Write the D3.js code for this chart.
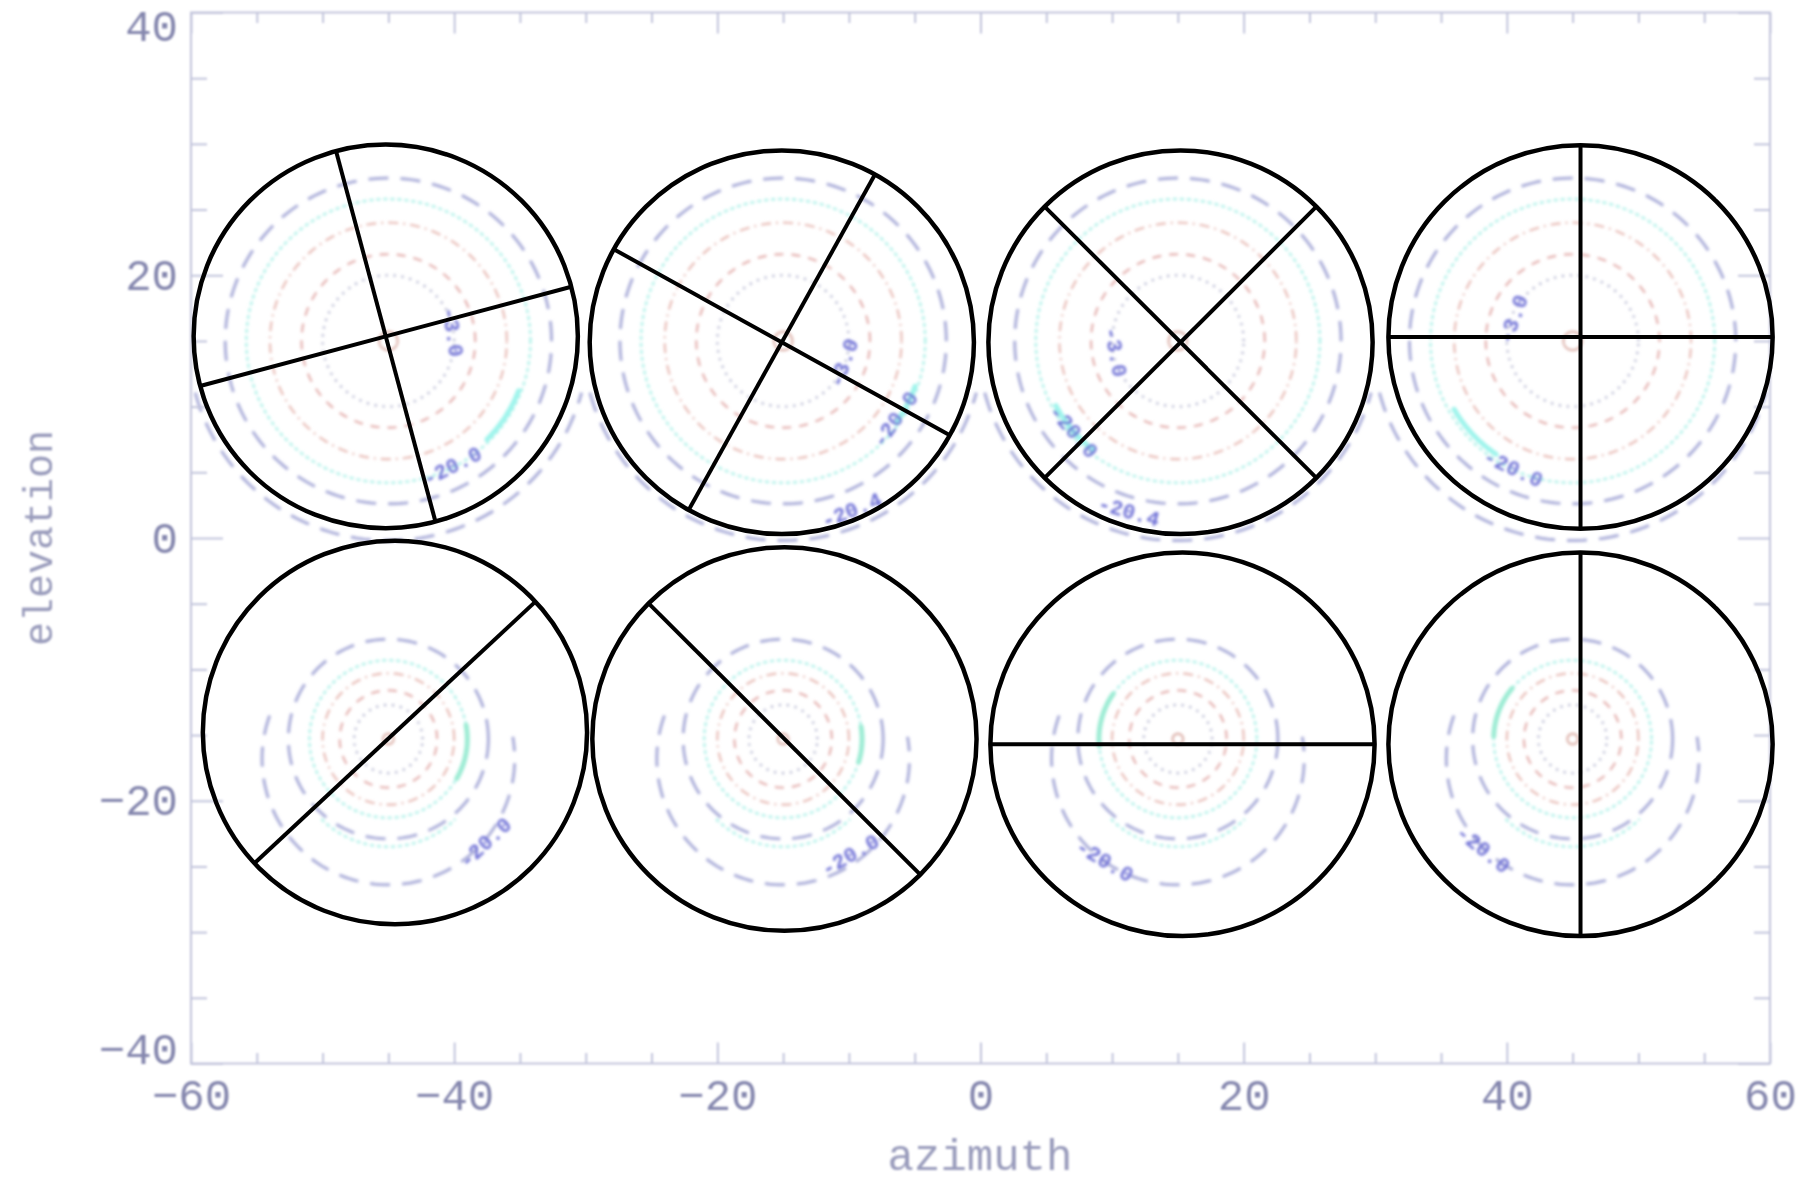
<!DOCTYPE html>
<html>
<head>
<meta charset="utf-8">
<script src="https://cdn.jsdelivr.net/npm/d3@7"></script>
<style>
  html, body { margin: 0; padding: 0; background: #ffffff; }
  svg { display: block; }
</style>
</head>
<body>
<svg id="chart" width="1802" height="1186"></svg>
<script>
// ---------------- data ----------------
const xTickValues = [-60, -40, -20, 0, 20, 40, 60];
const yTickValues = [-40, -20, 0, 20, 40];
const xMinorStep = 5;
const yMinorStep = 5;
const xAxisTitle = "azimuth";
const yAxisTitle = "elevation";

// contour spots (beam centres): 4 azimuths x 2 elevations
const spotAzimuth = [-45, -15, 15, 45];
const spotElevation = [15, -15.3];

// closed contour rings (radius in degrees) of the upper and lower beams
const upperRingRadii = [0.7, 5.0, 6.6, 9.0, 10.8, 12.4];
const lowerRingRadii = [0.4, 2.6, 3.7, 5.0, 6.0, 7.6];
const ringKinds = ["centre", "dot", "dash", "dashdot", "cyan", "long"];

// open contour arcs: row, centre offset (deg), radius (deg), angle range (deg)
const arcRow = [0, 1, 1];
const arcOffsetEl = [0, -1.5, -1.0];
const arcRadius = [15.2, 9.6, 7.2];
const arcFrom = [195, 160, 225];
const arcTo = [345, 370, 315];
const arcKind = ["long", "long", "cyan"];

// bright highlighted stretches of the cyan contour, per spot (0-3 upper, 4-7 lower)
const highlightSpot = [0, 1, 2, 3, 4, 5, 6, 7];
const highlightRadius = [10.6, 10.6, 10.5, 10.4, 6.0, 6.0, 6.0, 6.0];
const highlightFrom = [-45, -35, 208, 210, -30, -17, 145, 140];
const highlightTo = [-20, -18, 232, 236, 10, 9, 185, 178];

// contour labels
const labelText = ["-3.0", "-3.0", "-3.0", "-3.0", "-20.0", "-20.0", "-20.0", "-20.0",
                   "-20.4", "-20.4", "-20.0", "-20.0", "-20.0", "-20.0"];
const labelSpot = [0, 1, 2, 3, 0, 1, 2, 3, 1, 2, 4, 5, 6, 7];
const labelRadius = [4.85, 5.0, 4.9, 4.7, 10.8, 10.5, 10.6, 10.8, 14.0, 13.6, 10.9, 10.3, 10.9, 10.9];
const labelAngle = [8, -20, 190, 160, -63, -35, 221, 245, -68, -106, -47, -60, -121, -129];

// black overlay circles with their diameter lines
const circleAzimuth = [-45.2, -15.1, 15.2, 45.6, -44.5, -14.9, 15.35, 45.6];
const circleElevation = [15.35, 14.9, 14.9, 15.3, -14.8, -15.3, -15.7, -15.7];
const circleRadius = 14.6;
const circleLineAngles = [[15, 105], [61, 151], [45, 135], [0, 90], [43], [135], [0], [90]];

// ---------------- drawing ----------------
const svg = d3.select("#chart");
const x = d3.scaleLinear().domain([-60, 60]).range([191, 1770]);
const y = d3.scaleLinear().domain([-40, 40]).range([1063.5, 12.5]);
const ux = x(1) - x(0);
const uy = y(0) - y(1);

const defs = svg.append("defs");
defs.append("filter").attr("id", "soft").attr("x", "-5%").attr("y", "-5%").attr("width", "110%").attr("height", "110%")
  .append("feGaussianBlur").attr("stdDeviation", 1.4);
defs.append("filter").attr("id", "softer").attr("x", "-5%").attr("y", "-5%").attr("width", "110%").attr("height", "110%")
  .append("feGaussianBlur").attr("stdDeviation", 0.8);

const styles = {
  centre:  { stroke: "#d9a9a0", width: 2,   dash: null },
  dot:     { stroke: "#a6a8c6", width: 2.2, dash: "2 6" },
  dash:    { stroke: "#e4b0ae", width: 2.2, dash: "9 8" },
  dashdot: { stroke: "#e8bcb6", width: 2.2, dash: "10 5 2 5" },
  cyan:    { stroke: "#b4f2ea", width: 2.6, dash: "4 3" },
  long:    { stroke: "#abaed9", width: 3,   dash: "20 12" }
};

const spots = [];
spotElevation.forEach((el, row) => spotAzimuth.forEach(az => spots.push({ az, el, row })));

const contours = svg.append("g").attr("filter", "url(#soft)");

function ringPath(cx, cy, rx, ry, a0, a1) {
  const pts = d3.range(a0, a1 + 0.5, 2).map(a => {
    const t = a * Math.PI / 180;
    return [cx + rx * Math.cos(t), cy - ry * Math.sin(t)];
  });
  return d3.line()(pts);
}

spots.forEach(s => {
  const radii = s.row === 0 ? upperRingRadii : lowerRingRadii;
  radii.forEach((r, i) => {
    const st = styles[ringKinds[i]];
    contours.append("path")
      .attr("d", ringPath(x(s.az), y(s.el), r * ux, r * uy, 0, 360))
      .attr("fill", "none")
      .attr("stroke", st.stroke)
      .attr("stroke-width", st.width)
      .attr("stroke-dasharray", st.dash);
  });
  arcRow.forEach((row, i) => {
    if (row !== s.row) return;
    const st = styles[arcKind[i]];
    contours.append("path")
      .attr("d", ringPath(x(s.az), y(s.el + arcOffsetEl[i]), arcRadius[i] * ux, arcRadius[i] * uy, arcFrom[i], arcTo[i]))
      .attr("fill", "none")
      .attr("stroke", st.stroke)
      .attr("stroke-width", st.width)
      .attr("stroke-dasharray", st.dash);
  });
});

highlightSpot.forEach((si, i) => {
  const s = spots[si];
  contours.append("path")
    .attr("d", ringPath(x(s.az), y(s.el), highlightRadius[i] * ux, highlightRadius[i] * uy, highlightFrom[i], highlightTo[i]))
    .attr("fill", "none")
    .attr("stroke", s.row === 0 ? "#9ff4ec" : "#9decd4")
    .attr("stroke-width", 5)
    .attr("stroke-linecap", "round");
});

labelText.forEach((txt, i) => {
  const s = spots[labelSpot[i]];
  const a = labelAngle[i] * Math.PI / 180;
  const px = x(s.az + labelRadius[i] * Math.cos(a));
  const py = y(s.el + labelRadius[i] * Math.sin(a));
  let t = labelAngle[i] + 90;
  while (t > 90) t -= 180;
  while (t <= -90) t += 180;
  contours.append("text")
    .attr("transform", `translate(${px},${py}) rotate(${-t})`)
    .attr("text-anchor", "middle")
    .attr("dominant-baseline", "central")
    .attr("font-family", "Liberation Mono, DejaVu Sans Mono, monospace")
    .attr("font-weight", "bold")
    .attr("font-size", 21)
    .attr("fill", "#6e70d6")
    .text(txt);
});

// ---------------- axes (IDL-style box) ----------------
const axisColor = "#c3c5dc";
const labelColor = "#8587ae";
const axes = svg.append("g").attr("filter", "url(#softer)");

const xMinor = d3.range(-60, 60.1, xMinorStep).filter(v => !xTickValues.includes(v));
const yMinor = d3.range(-40, 40.1, yMinorStep).filter(v => !yTickValues.includes(v));
const xMajorLen = 21, yMajorLen = 32;

function drawAxis(gen, transform) {
  const g = axes.append("g").attr("transform", transform).call(gen);
  g.select(".domain").remove();
  g.selectAll("line").attr("stroke", axisColor).attr("stroke-width", 2);
  return g;
}

// bottom
const gBottom = drawAxis(d3.axisBottom(x).tickValues(xTickValues).tickSizeInner(-xMajorLen).tickSizeOuter(0)
  .tickPadding(0).tickFormat(d => d < 0 ? "\u2212" + Math.abs(d) : d), `translate(0,${y(-40)})`);
gBottom.selectAll("text")
  .attr("y", 46.5).attr("dy", null)
  .attr("font-family", "Liberation Mono, DejaVu Sans Mono, monospace")
  .attr("font-size", 44).attr("fill", labelColor);
drawAxis(d3.axisBottom(x).tickValues(xMinor).tickSizeInner(-xMajorLen / 2).tickSizeOuter(0).tickFormat(""), `translate(0,${y(-40)})`);
// top
drawAxis(d3.axisTop(x).tickValues(xTickValues).tickSizeInner(-xMajorLen).tickSizeOuter(0).tickFormat(""), `translate(0,${y(40)})`);
drawAxis(d3.axisTop(x).tickValues(xMinor).tickSizeInner(-xMajorLen / 2).tickSizeOuter(0).tickFormat(""), `translate(0,${y(40)})`);
// left
const gLeft = drawAxis(d3.axisLeft(y).tickValues(yTickValues).tickSizeInner(-yMajorLen).tickSizeOuter(0)
  .tickPadding(13).tickFormat(d => d < 0 ? "\u2212" + Math.abs(d) : d), `translate(${x(-60)},0)`);
gLeft.selectAll("text")
  .attr("dy", null)
  .attr("y", d => (d === 40 ? 13.5 : d === -40 ? -14.5 : 0) + 14)
  .attr("font-family", "Liberation Mono, DejaVu Sans Mono, monospace")
  .attr("font-size", 44).attr("fill", labelColor);
drawAxis(d3.axisLeft(y).tickValues(yMinor).tickSizeInner(-yMajorLen / 2).tickSizeOuter(0).tickFormat(""), `translate(${x(-60)},0)`);
// right
drawAxis(d3.axisRight(y).tickValues(yTickValues).tickSizeInner(-yMajorLen).tickSizeOuter(0).tickFormat(""), `translate(${x(60)},0)`);
drawAxis(d3.axisRight(y).tickValues(yMinor).tickSizeInner(-yMajorLen / 2).tickSizeOuter(0).tickFormat(""), `translate(${x(60)},0)`);

axes.append("rect")
  .attr("x", x(-60)).attr("y", y(40))
  .attr("width", x(60) - x(-60)).attr("height", y(-40) - y(40))
  .attr("fill", "none").attr("stroke", axisColor).attr("stroke-width", 2);

axes.append("text")
  .attr("x", (x(-60) + x(60)) / 2 - 0.5).attr("y", 1170)
  .attr("text-anchor", "middle")
  .attr("font-family", "Liberation Mono, DejaVu Sans Mono, monospace")
  .attr("font-size", 44).attr("fill", "#9a9cbc")
  .text(xAxisTitle);

axes.append("text")
  .attr("transform", `translate(52,${y(0)}) rotate(-90)`)
  .attr("text-anchor", "middle")
  .attr("font-family", "Liberation Mono, DejaVu Sans Mono, monospace")
  .attr("font-size", 40).attr("fill", "#9a9cbc")
  .text(yAxisTitle);

// ---------------- black overlay circles ----------------
const overlay = svg.append("g");
circleAzimuth.forEach((az, i) => {
  const cx = x(az), cy = y(circleElevation[i]);
  const rx = circleRadius * ux, ry = circleRadius * uy;
  overlay.append("ellipse")
    .attr("cx", cx).attr("cy", cy).attr("rx", rx).attr("ry", ry)
    .attr("fill", "none").attr("stroke", "#000").attr("stroke-width", 4.5);
  circleLineAngles[i].forEach(ang => {
    const t = ang * Math.PI / 180;
    overlay.append("line")
      .attr("x1", x(az + circleRadius * Math.cos(t))).attr("y1", y(circleElevation[i] + circleRadius * Math.sin(t)))
      .attr("x2", x(az - circleRadius * Math.cos(t))).attr("y2", y(circleElevation[i] - circleRadius * Math.sin(t)))
      .attr("stroke", "#000").attr("stroke-width", 4);
  });
});
</script>
</body>
</html>
